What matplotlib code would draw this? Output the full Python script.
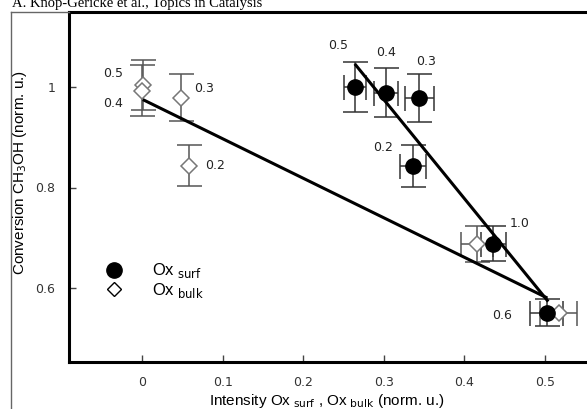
import matplotlib
matplotlib.use("Agg")
import matplotlib.pyplot as plt
from matplotlib.lines import Line2D
import numpy as np

# ---- data ----
surf_labels = ['0.5', '0.4', '0.3', '0.2', '1.0', '0.6']
surf_x = [0.264, 0.303, 0.344, 0.336, 0.436, 0.502]
surf_y = [1.000, 0.989, 0.978, 0.843, 0.688, 0.551]
surf_xerr = [0.014, 0.015, 0.018, 0.016, 0.015, 0.020]
surf_yerr = [0.049, 0.049, 0.048, 0.042, 0.035, 0.027]

bulk_labels = ['0.5', '0.4', '0.3', '0.2', '', '']
bulk_x = [0.001, 0.000, 0.048, 0.058, 0.416, 0.517]
bulk_y = [1.004, 0.993, 0.979, 0.843, 0.688, 0.551]
bulk_xerr = [0.0, 0.0, 0.0, 0.0, 0.020, 0.023]
bulk_yerr = [0.050, 0.050, 0.047, 0.041, 0.036, 0.0]

surf_fit_x = [0.264, 0.504]
surf_fit_y = [1.046, 0.573]
bulk_fit_x = [0.001, 0.503]
bulk_fit_y = [0.975, 0.580]

x_ticks = [0, 0.1, 0.2, 0.3, 0.4, 0.5]
x_ticklabels = ['0', '0.1', '0.2', '0.3', '0.4', '0.5']
y_ticks = [0.6, 0.8, 1.0]
y_ticklabels = ['0.6', '0.8', '1']

# label offsets in pixels (dx, dy up positive)
surf_lab_off = [(-17, 41), (0, 40), (7, 37), (-30, 18), (26, 20), (-45, -3)]
bulk_lab_off = [(-30, 11), (-29, -13), (23, 9), (26, 0), (0, 0), (0, 0)]

W, H = 587, 409
fig = plt.figure(figsize=(W / 100, H / 100), dpi=100)
ax = fig.add_axes([69 / W, 1 - 362 / H, (593 - 69) / W, (362 - 12) / H])

ax.set_xlim(-(142 - 69) / 806, (593 - 142) / 806)
ax.set_ylim(0.6 - 74 / 502.5, 1 + 75 / 502.5)

for s in ax.spines.values():
    s.set_linewidth(2.2)
    s.set_color('black')

# fit lines
ax.plot(surf_fit_x, surf_fit_y, color='black', lw=2.2, zorder=3, solid_capstyle='butt')
ax.plot(bulk_fit_x, bulk_fit_y, color='black', lw=2.2, zorder=3, solid_capstyle='butt')

# bulk points
for xi, yi, xe, ye in zip(bulk_x, bulk_y, bulk_xerr, bulk_yerr):
    ax.errorbar([xi], [yi],
                xerr=[xe] if xe > 0 else None,
                yerr=[ye] if ye > 0 else None,
                fmt='none', ecolor='#555555', elinewidth=1.1, capsize=9,
                capthick=1.1, zorder=2)
ax.plot(bulk_x, bulk_y, linestyle='none', marker='D', markersize=8,
        markerfacecolor='white', markeredgecolor='#777777', markeredgewidth=1.1, zorder=5)

# surf points
ax.errorbar(surf_x, surf_y, xerr=surf_xerr, yerr=surf_yerr, fmt='none',
            ecolor='#333333', elinewidth=1.1, capsize=9, capthick=1.1, zorder=2)
ax.plot(surf_x, surf_y, linestyle='none', marker='o', markersize=11,
        markerfacecolor='black', markeredgecolor='black', zorder=6)

lab_kw = dict(fontsize=9, color='#222222', ha='center', va='center',
              textcoords='offset points', family='DejaVu Sans')
for lab, xi, yi, (dx, dy) in zip(surf_labels, surf_x, surf_y, surf_lab_off):
    if lab:
        ax.annotate(lab, (xi, yi), xytext=(dx * 0.72, dy * 0.72), **lab_kw)
for lab, xi, yi, (dx, dy) in zip(bulk_labels, bulk_x, bulk_y, bulk_lab_off):
    if lab:
        ax.annotate(lab, (xi, yi), xytext=(dx * 0.72, dy * 0.72), **lab_kw)

# ticks
ax.set_xticks(x_ticks)
ax.set_xticklabels(x_ticklabels)
ax.set_yticks(y_ticks)
ax.set_yticklabels(y_ticklabels)
ax.tick_params(direction='in', length=5, width=1, color='#444444',
               labelsize=9, labelcolor='#333333')
ax.tick_params(axis='x', pad=10)
ax.tick_params(axis='y', pad=10)
ax.tick_params(top=False, right=False)

# axis labels
fig.text(327 / W, 1 - 401 / H,
         r'Intensity Ox$_{\rm\ surf}$ , Ox$_{\rm\ bulk}$ (norm. u.)',
         ha='center', va='center', fontsize=11, family='Liberation Sans')
fig.text(20 / W, 1 - 172 / H, r'Conversion CH$_3$OH (norm. u.)',
         ha='center', va='center', rotation=90, fontsize=11, family='Liberation Sans')

# legend
handles = [Line2D([], [], linestyle='none', marker='o', markersize=11,
                  markerfacecolor='black', markeredgecolor='black'),
           Line2D([], [], linestyle='none', marker='D', markersize=7,
                  markerfacecolor='white', markeredgecolor='black', markeredgewidth=1)]
leg = fig.legend(handles, [r'Ox$_{\rm\ surf}$', r'Ox$_{\rm\ bulk}$'],
                 loc='upper left', bbox_to_anchor=(97 / W, 1 - 253 / H),
                 frameon=False, borderpad=0, handlelength=1, handletextpad=1.8,
                 labelspacing=0.05, prop={'family': 'Liberation Sans', 'size': 12})

# header text and outer frame
fig.text(12 / W, 1 - 7 / H, 'A. Knop-Gericke et al., Topics in Catalysis',
         ha='left', va='baseline', fontsize=10.5, family='Liberation Serif')
fig.add_artist(Line2D([11 / W, 11 / W], [0, 1 - 12 / H], color='#666666', lw=1,
                      transform=fig.transFigure))
fig.add_artist(Line2D([11 / W, 69 / W], [1 - 12 / H, 1 - 12 / H], color='#666666', lw=1,
                      transform=fig.transFigure))

fig.savefig('out.png', dpi=100)
